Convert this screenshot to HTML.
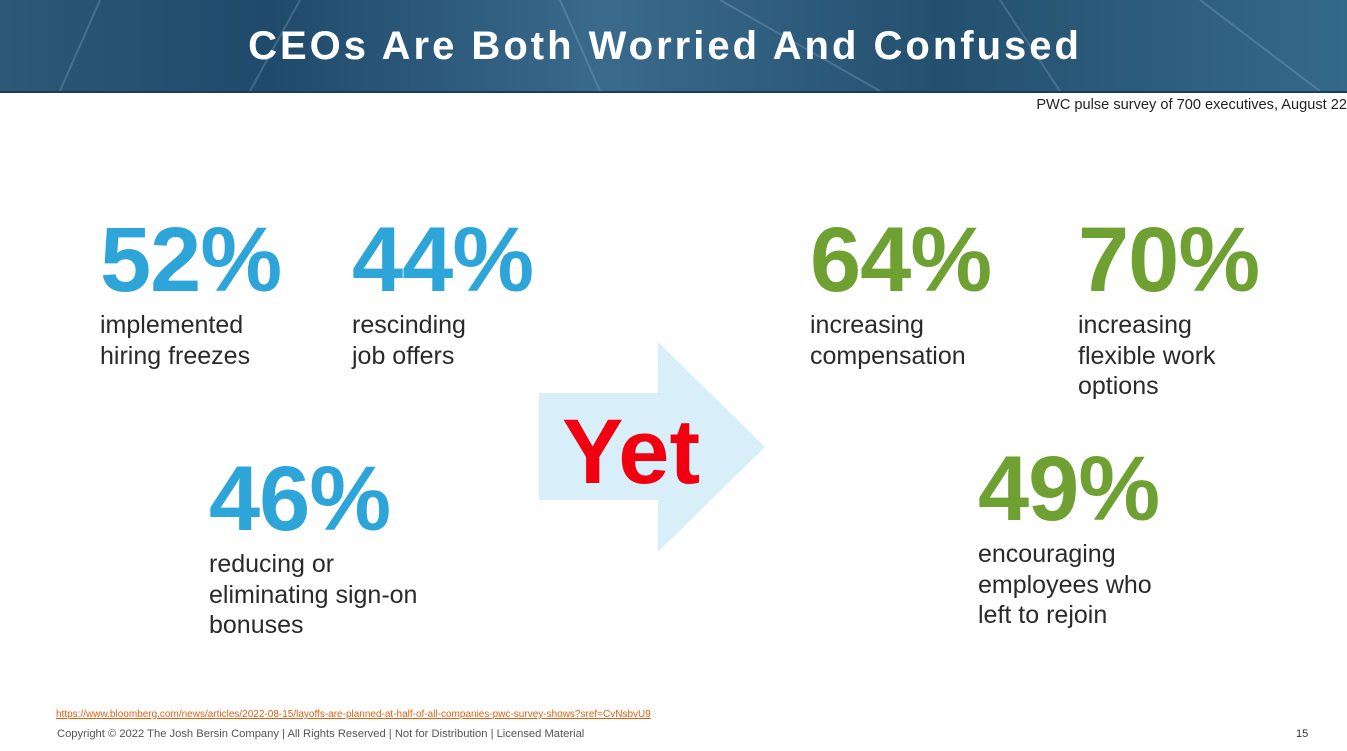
<!DOCTYPE html>
<html><head><style>
body{margin:0;width:1347px;height:751px;overflow:hidden;background:#fff;position:relative;font-family:"Liberation Sans",Arial,sans-serif}
.hdr{position:absolute;left:0;top:0;width:1347px;height:91px;background:linear-gradient(90deg,#2e5877 0%,#1f4a6b 20%,#3a6a8c 45%,#24506f 70%,#35698a 100%);border-bottom:2px solid #1b3d58}
.hdr h1{margin:0;position:absolute;left:0;width:1330px;text-align:center;top:24px;font-size:40px;color:#fff;font-weight:bold;letter-spacing:3px}
.abs{position:absolute}
.n{font-weight:bold;font-size:92px;letter-spacing:-1px;line-height:1}
.b{color:#2ea5d8}.g{color:#6ea132}
.l{font-size:25px;line-height:30.5px;color:#2a2a2a}
</style></head><body>
<div class="hdr">
<svg width="1347" height="91" style="position:absolute;left:0;top:0;opacity:.25"><g stroke="#9fc1d8" stroke-width="2"><line x1="100" y1="0" x2="60" y2="91"/><line x1="300" y1="0" x2="250" y2="91"/><line x1="560" y1="0" x2="600" y2="91"/><line x1="720" y1="0" x2="880" y2="91"/><line x1="1000" y1="0" x2="1060" y2="91"/><line x1="1200" y1="0" x2="1320" y2="91"/></g></svg>
<h1>CEOs Are Both Worried And Confused</h1></div>
<div class="abs" style="right:0;top:97px;font-size:14.6px;color:#222">PWC pulse survey of 700 executives, August 22</div>
<svg class="abs" style="left:0;top:0" width="1347" height="751"><polygon points="539,393 658,393 658,342 765,447 658,552 658,500 539,500" fill="#d8eef8"/></svg>
<div class="abs" style="left:562px;top:400px;font-size:92px;font-weight:bold;color:#f00010">Yet</div>
<div class="abs n b" style="left:100px;top:214px">52%</div>
<div class="abs l" style="left:100px;top:310px">implemented<br>hiring freezes</div>
<div class="abs n b" style="left:352px;top:214px">44%</div>
<div class="abs l" style="left:352px;top:310px">rescinding<br>job offers</div>
<div class="abs n b" style="left:209px;top:453px">46%</div>
<div class="abs l" style="left:209px;top:549px">reducing or<br>eliminating sign-on<br>bonuses</div>
<div class="abs n g" style="left:810px;top:214px">64%</div>
<div class="abs l" style="left:810px;top:310px">increasing<br>compensation</div>
<div class="abs n g" style="left:1078px;top:214px">70%</div>
<div class="abs l" style="left:1078px;top:310px">increasing<br>flexible work<br>options</div>
<div class="abs n g" style="left:978px;top:443px">49%</div>
<div class="abs l" style="left:978px;top:539px">encouraging<br>employees who<br>left to rejoin</div>
<div class="abs" style="left:56px;top:709px;font-size:10px;color:#e06010;text-decoration:underline">https://www.bloomberg.com/news/articles/2022-08-15/layoffs-are-planned-at-half-of-all-companies-pwc-survey-shows?sref=CvNsbvU9</div>
<div class="abs" style="left:57px;top:728px;font-size:11.2px;color:#555">Copyright © 2022 The Josh Bersin Company | All Rights Reserved | Not for Distribution | Licensed Material</div>
<div class="abs" style="left:1296px;top:728px;font-size:11px;color:#333">15</div>
</body></html>
